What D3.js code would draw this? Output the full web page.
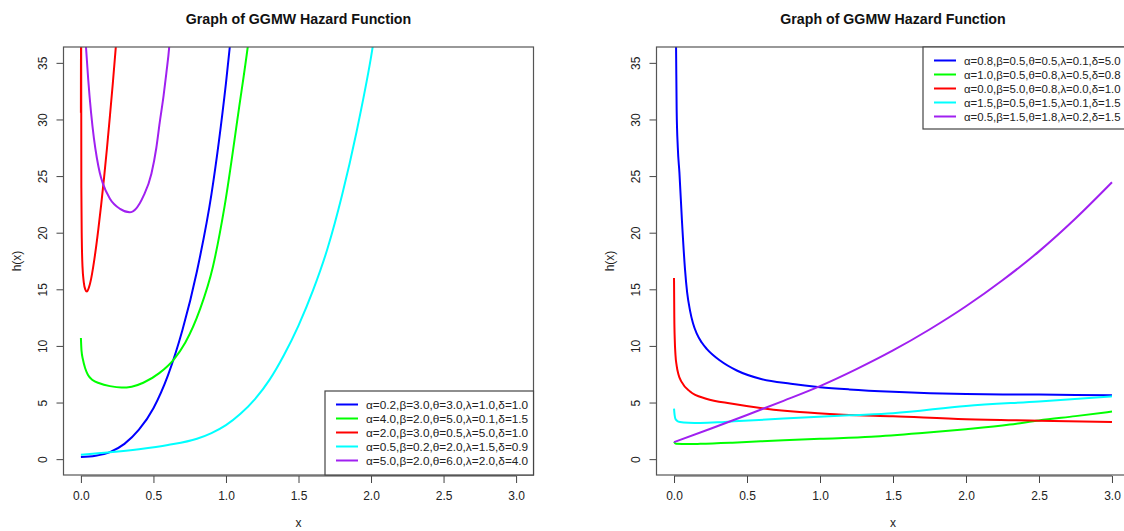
<!DOCTYPE html>
<html lang="en">
<head>
<meta charset="UTF-8">
<title>GGMW Hazard Function</title>
<script src="https://d3js.org/d3.v7.min.js"></script>
<style>
  body { margin: 0; background: #fff; }
  svg { display: block; font-family: "Liberation Sans", Arial, sans-serif; }
</style>
</head>
<body>
<svg width="1124" height="531"></svg>
<script>

// ---- left panel: values ----
const leftLabels = [
    "α=0.2,β=3.0,θ=3.0,λ=1.0,δ=1.0",
    "α=4.0,β=2.0,θ=5.0,λ=0.1,δ=1.5",
    "α=2.0,β=3.0,θ=0.5,λ=5.0,δ=1.0",
    "α=0.5,β=0.2,θ=2.0,λ=1.5,δ=0.9",
    "α=5.0,β=2.0,θ=6.0,λ=2.0,δ=4.0"
];
const leftBlueX  = [0, 0.1, 0.2, 0.3, 0.4, 0.5, 0.6, 0.7, 0.8, 0.9, 1.0, 1.06];
const leftBlueH  = [0.18, 0.3, 0.62, 1.35, 2.6, 4.5, 7.4, 11.4, 16.6, 23.4, 33.2, 40.5];
const leftGreenX = [0, 0.004, 0.014, 0.03, 0.048, 0.08, 0.128, 0.2, 0.28, 0.35, 0.43, 0.54, 0.64, 0.72, 0.82, 0.91, 0.99, 1.09, 1.15, 1.18];
const leftGreenH = [10.7, 9.6, 8.8, 8.0, 7.45, 7.0, 6.7, 6.45, 6.32, 6.4, 6.75, 7.6, 8.8, 10.3, 13.2, 17.0, 22.3, 31.0, 36.4, 39.5];
const leftRedX   = [0, 0.001, 0.003, 0.006, 0.011, 0.02, 0.03, 0.041, 0.055, 0.07, 0.085, 0.1, 0.12, 0.14, 0.16, 0.18, 0.2, 0.22, 0.24, 0.26];
const leftRedH   = [30.6, 45, 24, 19.5, 17, 15.6, 15.0, 14.8, 15.15, 15.9, 17.0, 18.3, 20.3, 22.5, 24.9, 27.5, 30.3, 33.2, 36.3, 39.5];
const leftCyanX  = [0, 0.2, 0.4, 0.6, 0.8, 0.9, 1.0, 1.1, 1.2, 1.3, 1.4, 1.5, 1.6, 1.7, 1.8, 1.9, 2.0, 2.05];
const leftCyanH  = [0.38, 0.6, 0.88, 1.25, 1.8, 2.3, 3.0, 4.0, 5.3, 7.0, 9.2, 11.8, 14.9, 18.6, 23.3, 28.9, 35.5, 39.5];
const leftPurpX  = [0.02, 0.035, 0.05, 0.07, 0.09, 0.11, 0.13, 0.15, 0.2, 0.27, 0.336, 0.382, 0.43, 0.486, 0.52, 0.543, 0.57, 0.589, 0.61, 0.62];
const leftPurpH  = [39.7, 36.4, 33.6, 30.6, 28.3, 26.6, 25.3, 24.4, 23.0, 22.1, 21.8, 22.15, 23.2, 25.2, 27.5, 29.7, 32.1, 34.1, 36.6, 38.5];

// ---- right panel ----
const rightLabels = [
    "α=0.8,β=0.5,θ=0.5,λ=0.1,δ=5.0",
    "α=1.0,β=0.5,θ=0.8,λ=0.5,δ=0.8",
    "α=0.0,β=5.0,θ=0.8,λ=0.0,δ=1.0",
    "α=1.5,β=0.5,θ=1.5,λ=0.1,δ=1.5",
    "α=0.5,β=1.5,θ=1.8,λ=0.2,δ=1.5"
];
const rightBlueX  = [0.01, 0.014, 0.018, 0.026, 0.037, 0.055, 0.075, 0.09, 0.11, 0.13, 0.155, 0.19, 0.224, 0.315, 0.43, 0.59, 0.8, 1.0, 1.2, 1.5, 2.0, 2.5, 3.0];
const rightBlueH  = [40, 36.4, 30.9, 27.5, 25.3, 20.9, 16.8, 14.7, 13.1, 12.0, 11.1, 10.3, 9.74, 8.71, 7.83, 7.1, 6.66, 6.36, 6.16, 5.95, 5.75, 5.7, 5.65];
const rightGreenX = [0, 0.014, 0.1, 0.18, 0.4, 0.75, 1.0, 1.35, 1.7, 2.0, 2.3, 2.5, 2.75, 3.0];
const rightGreenH = [1.52, 1.35, 1.33, 1.35, 1.45, 1.67, 1.8, 1.97, 2.3, 2.64, 3.05, 3.42, 3.8, 4.2];
const rightRedX   = [0, 0.002, 0.005, 0.01, 0.018, 0.03, 0.053, 0.11, 0.22, 0.4, 0.63, 0.86, 1.16, 1.5, 2.0, 2.5, 3.0];
const rightRedH   = [16.0, 12.5, 10.6, 9.2, 8.27, 7.5, 6.8, 5.98, 5.34, 4.9, 4.46, 4.16, 3.93, 3.78, 3.52, 3.4, 3.29];
const rightCyanX  = [0, 0.004, 0.009, 0.02, 0.041, 0.1, 0.18, 0.3, 0.41, 0.75, 1.2, 1.5, 2.0, 2.5, 3.0];
const rightCyanH  = [4.46, 3.9, 3.58, 3.4, 3.28, 3.22, 3.2, 3.25, 3.34, 3.58, 3.87, 4.05, 4.7, 5.1, 5.55];
const rightPurpX  = [0, 0.25, 0.5, 0.75, 1.0, 1.25, 1.5, 1.75, 2.0, 2.25, 2.5, 2.75, 3.0];
const rightPurpH  = [1.5, 2.68, 3.9, 5.15, 6.45, 7.95, 9.6, 11.45, 13.5, 15.8, 18.35, 21.25, 24.45];

const xTicks = [0, 0.5, 1, 1.5, 2, 2.5, 3];
const yTicks = [0, 5, 10, 15, 20, 25, 30, 35];

const colors = ["#0000ff", "#00ff00", "#ff0000", "#00ffff", "#a020f0"];

const zip = (xs, hs) => xs.map((x, i) => ({x: x, h: hs[i]}));

const panels = [
    {
        left: 63.5, right: 533.5,
        legendX: 325, legendY: 391, legendH: 84, legendFont: 11.8,
        labels: leftLabels,
        series: [zip(leftBlueX, leftBlueH), zip(leftGreenX, leftGreenH), zip(leftRedX, leftRedH),
                 zip(leftCyanX, leftCyanH), zip(leftPurpX, leftPurpH)]
    },
    {
        left: 656.5, right: 1129.5,
        legendX: 923, legendY: 47, legendH: 82, legendFont: 11.4,
        labels: rightLabels,
        series: [zip(rightBlueX, rightBlueH), zip(rightGreenX, rightGreenH), zip(rightRedX, rightRedH),
                 zip(rightCyanX, rightCyanH), zip(rightPurpX, rightPurpH)]
    }
];

const plotTop = 47, plotBottom = 475;
const svg = d3.select("svg");
const fmt = d3.format(".1f");

panels.forEach((p, pi) => {
    const x = d3.scaleLinear().domain([-0.12, 3.12]).range([p.left, p.right]);
    const y = d3.scaleLinear().domain([-1.4, 36.4]).range([plotBottom, plotTop]);
    const g = svg.append("g");

    g.append("clipPath").attr("id", "clip" + pi)
        .append("rect")
        .attr("x", p.left).attr("y", plotTop)
        .attr("width", p.right - p.left).attr("height", plotBottom - plotTop);

    const line = d3.line()
        .x(d => x(d.x))
        .y(d => y(d.h))
        .curve(d3.curveMonotoneX);

    g.append("g").attr("clip-path", `url(#clip${pi})`)
        .selectAll("path")
        .data(p.series)
        .join("path")
        .attr("fill", "none")
        .attr("stroke", (d, i) => colors[i])
        .attr("stroke-width", 2)
        .attr("d", line);

    // axes
    const xAxis = d3.axisBottom(x).tickValues(xTicks).tickSize(7).tickPadding(8).tickFormat(fmt);
    const gx = g.append("g").attr("transform", `translate(0,${plotBottom + 1})`).call(xAxis);
    gx.select(".domain").attr("d", `M${x(0)},0H${x(3)}`);

    const yAxis = d3.axisLeft(y).tickValues(yTicks).tickSize(7);
    const gy = g.append("g").attr("transform", `translate(${p.left},0)`).call(yAxis);
    gy.select(".domain").remove();
    gy.selectAll(".tick text")
        .attr("x", null).attr("dy", null)
        .attr("text-anchor", "middle")
        .attr("dominant-baseline", "central")
        .attr("transform", "translate(-21,0) rotate(-90)");

    [gx, gy].forEach(a => {
        a.selectAll(".tick line").attr("stroke", "#444");
        a.select(".domain").attr("stroke", "#444");
        a.selectAll(".tick text").attr("fill", "#222").style("font-size", "12px")
            .style("font-family", "'Liberation Sans', Arial, sans-serif");
    });

    // box
    g.append("rect")
        .attr("x", p.left).attr("y", plotTop)
        .attr("width", p.right - p.left).attr("height", plotBottom - plotTop)
        .attr("fill", "none").attr("stroke", "#555").attr("stroke-width", 1.2);

    // titles
    g.append("text")
        .attr("x", (p.left + p.right) / 2).attr("y", 24)
        .attr("text-anchor", "middle")
        .style("font-size", "14.2px").style("font-weight", "bold").attr("fill", "#111")
        .text("Graph of GGMW Hazard Function");
    g.append("text")
        .attr("x", (p.left + p.right) / 2).attr("y", 527)
        .attr("text-anchor", "middle")
        .style("font-size", "12px").attr("fill", "#222")
        .text("x");
    g.append("text")
        .attr("transform", `translate(${p.left - 47},${(plotTop + plotBottom) / 2}) rotate(-90)`)
        .attr("text-anchor", "middle").attr("dominant-baseline", "central")
        .style("font-size", "12px").attr("fill", "#222")
        .text("h(x)");

    // legend
    const lg = g.append("g").attr("transform", `translate(${p.legendX},${p.legendY})`);
    lg.append("rect")
        .attr("width", 208.5).attr("height", p.legendH)
        .attr("fill", "#fff").attr("stroke", "#444").attr("stroke-width", 1.2);
    const rows = lg.selectAll("g.row")
        .data(p.labels)
        .join("g")
        .attr("class", "row")
        .attr("transform", (d, i) => `translate(0,${13.5 + i * 14})`);
    rows.append("line")
        .attr("x1", 11).attr("x2", 33)
        .attr("stroke", (d, i) => colors[i]).attr("stroke-width", 2);
    rows.append("text")
        .attr("x", 41).attr("dominant-baseline", "central")
        .style("font-size", p.legendFont + "px").attr("fill", "#222")
        .text(d => d);
});

</script>
</body>
</html>
